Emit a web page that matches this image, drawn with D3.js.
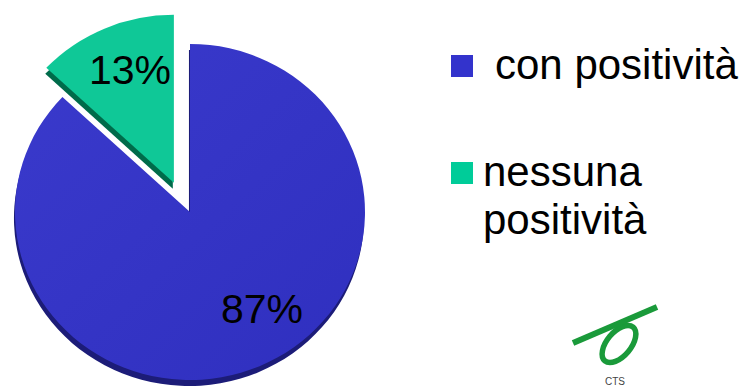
<!DOCTYPE html>
<html><head><meta charset="utf-8">
<script src="https://cdn.jsdelivr.net/npm/d3@7"></script>
<style>body{margin:0;background:#fff}svg{display:block}</style>
</head><body>
<script>
const categories = ["con positività", "nessuna positività"];
const legendLines = [["con positività"], ["nessuna", "positività"]];
const values = [87, 13];
const labels = ["87%", "13%"];
const colors = ["#3535c6", "#0fc897"];
const darkColors = ["#1c1c78", "#006b4a"];
const legendColors = ["#3333cc", "#00cc99"];

const W = 743, H = 389;
const svg = d3.select("body").append("svg").attr("width", W).attr("height", H);
const font = "'Liberation Sans', Arial, sans-serif";

const cx = 190, cy = 212, ry = 168, rx = 175;
const explode = [0, 33];
const pie = d3.pie().sort(null).startAngle(0).endAngle(2 * Math.PI).value(d => d);
const arcs = pie(values);
const arc = d3.arc().innerRadius(0).outerRadius(ry);

const defs = svg.append("defs");
const g1 = defs.append("linearGradient").attr("id", "gb").attr("x1", 0).attr("y1", 0).attr("x2", 1).attr("y2", 1);
g1.append("stop").attr("offset", "0%").attr("stop-color", "#3a3acc");
g1.append("stop").attr("offset", "100%").attr("stop-color", "#2f2fbf");

const gPie = svg.append("g").attr("transform", `translate(${cx},${cy}) scale(${rx / ry},1)`);
function off(d, i) {
  const a = (d.startAngle + d.endAngle) / 2 + (i === 1 ? -0.08 : 0);
  return [Math.sin(a) * explode[i], -Math.cos(a) * explode[i]];
}
gPie.selectAll("path.depth").data(arcs).join("path")
  .attr("class", "depth")
  .attr("d", arc)
  .attr("fill", (d, i) => darkColors[i])
  .attr("transform", (d, i) => { const o = off(d, i); return `translate(${o[0] - 1},${o[1] + 6})`; });
gPie.selectAll("path.top").data(arcs).join("path")
  .attr("class", "top")
  .attr("d", arc)
  .attr("fill", (d, i) => i === 0 ? "url(#gb)" : colors[i])
  .attr("transform", (d, i) => { const o = off(d, i); return `translate(${o[0]},${o[1]})`; });

const labelPos = [[262, 323], [130, 84]];
svg.selectAll("text.lbl").data(arcs).join("text")
  .attr("class", "lbl")
  .attr("x", (d, i) => labelPos[i][0])
  .attr("y", (d, i) => labelPos[i][1])
  .attr("text-anchor", "middle")
  .attr("font-family", font)
  .attr("font-size", 41)
  .attr("fill", "#000")
  .text((d, i) => labels[i]);

const legY = [55, 162];
const legTextX = [495, 483];
const leg = svg.append("g");
categories.forEach((c, i) => {
  leg.append("rect").attr("x", 451).attr("y", legY[i]).attr("width", 22).attr("height", 22).attr("fill", legendColors[i]);
  legendLines[i].forEach((ln, j) => {
    leg.append("text")
      .attr("x", legTextX[i]).attr("y", legY[i] + 24 + j * 48)
      .attr("font-family", font).attr("font-size", 42).attr("fill", "#000")
      .text(ln);
  });
});

const logo = svg.append("g");
logo.append("ellipse").attr("cx", 619).attr("cy", 344).attr("rx", 12).attr("ry", 22)
  .attr("transform", "rotate(40,619,344)").attr("fill", "none").attr("stroke", "#1a9a3a").attr("stroke-width", 5.5);
logo.append("line").attr("x1", 573).attr("y1", 343).attr("x2", 657).attr("y2", 307)
  .attr("stroke", "#1a9a3a").attr("stroke-width", 6);
logo.append("text").attr("x", 615).attr("y", 385).attr("text-anchor", "middle")
  .attr("font-family", font).attr("font-size", 10).attr("fill", "#444").text("CTS");
</script>
</body></html>
